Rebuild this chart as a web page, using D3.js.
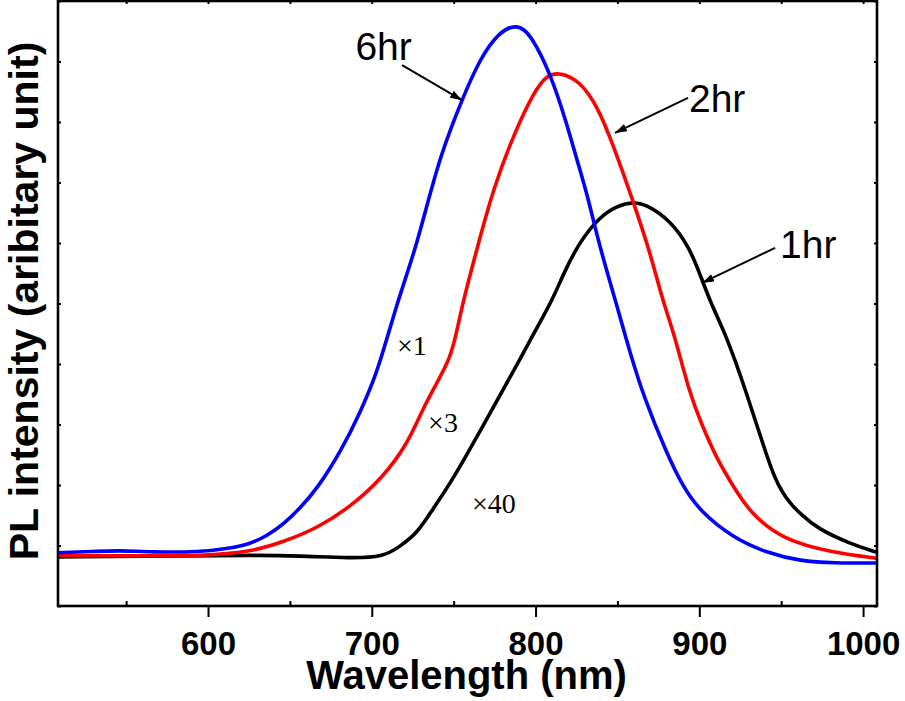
<!DOCTYPE html>
<html>
<head>
<meta charset="utf-8">
<script src="https://cdn.jsdelivr.net/npm/d3@7"></script>
<style>
  body { margin: 0; background: #fff; }
  svg { display: block; }
</style>
</head>
<body>
<div id="graphe"></div>
<script>
//----------------------------------------------------------------
// données (nm, intensité en unités arbitraires)
//----------------------------------------------------------------
var nm6hr = [508, 530, 546, 565, 595, 613, 626, 636, 646, 656, 667, 681, 693, 703, 709, 715, 721, 727, 733, 742, 754, 766, 778, 789, 797, 809, 819, 825, 832, 839, 850, 857, 866, 880, 890, 901, 921, 941, 962, 982, 1008];
var pl6hr = [0.88, 0.90, 0.92, 0.89, 0.89, 0.95, 1.03, 1.16, 1.35, 1.61, 1.95, 2.55, 3.20, 3.85, 4.40, 4.95, 5.45, 5.95, 6.55, 7.45, 8.30, 9.05, 9.50, 9.62, 9.45, 8.81, 7.98, 7.40, 6.76, 5.95, 4.94, 4.25, 3.46, 2.53, 1.97, 1.55, 1.12, 0.88, 0.74, 0.71, 0.71];

var nm2hr = [508, 565, 595, 626, 646, 667, 687, 707, 722, 731, 740, 748, 752, 756, 764, 774, 786, 799, 807, 815, 827, 838, 847, 860, 870, 878, 884, 894, 901, 911, 921, 931, 951, 982, 1008];
var pl2hr = [0.83, 0.83, 0.83, 0.89, 1.06, 1.29, 1.64, 2.13, 2.69, 3.25, 3.70, 4.10, 4.55, 5.06, 5.88, 6.88, 7.75, 8.50, 8.78, 8.82, 8.68, 8.25, 7.65, 6.66, 5.84, 5.01, 4.56, 3.52, 3.03, 2.41, 1.97, 1.54, 1.09, 0.88, 0.79];

var nm1hr = [508, 595, 626, 656, 687, 707, 717, 728, 737, 748, 758, 768, 778, 791, 800, 810, 818, 827, 839, 850, 860, 868, 882, 894, 901, 907, 915, 922, 929, 935, 941, 946, 951, 957, 962, 972, 992, 1008];
var pl1hr = [0.81, 0.83, 0.84, 0.83, 0.79, 0.81, 0.98, 1.21, 1.59, 2.03, 2.50, 2.98, 3.47, 4.10, 4.56, 5.04, 5.55, 6.02, 6.43, 6.62, 6.68, 6.63, 6.38, 5.93, 5.44, 5.01, 4.55, 4.05, 3.50, 3.00, 2.50, 2.12, 1.86, 1.65, 1.52, 1.28, 1.03, 0.89];

var series = ["1hr", "2hr", "6hr"];
var couleurs = ["#000000", "#ff0000", "#0000ff"];
var facteurs = ["\u00d740", "\u00d73", "\u00d71"];

var xTicks = [600, 700, 800, 900, 1000];
var xMinor = [550, 650, 750, 850, 950];
var yTicks = [0, 1, 2, 3, 4, 5, 6, 7, 8, 9, 10];

// repères des annotations (nm, intensité)
var fleches = [
  {txt: "1hr", pointe: [901.7, 5.34], queue: [946.3, 5.92], texte: [949.3, 5.75]},
  {txt: "2hr", pointe: [848.5, 7.82], queue: [893.1, 8.40], texte: [893.7, 8.17]},
  {txt: "6hr", pointe: [755.1, 8.36], queue: [718.5, 8.94], texte: [690.0, 9.03]}
];
var posFacteurs = [[761.2, 1.54], [734.4, 2.88], [715.4, 4.15]];

//----------------------------------------------------------------
// svg
//----------------------------------------------------------------
var largeurSvg = 905, hauteurSvg = 701;
var marges = {haut: 1, droite: 28, bas: 95, gauche: 58},
    largeur = largeurSvg - marges.gauche - marges.droite,
    hauteur = hauteurSvg - marges.haut - marges.bas;

var svg = d3.select("#graphe")
    .append("svg")
    .attr("width", largeurSvg)
    .attr("height", hauteurSvg);
var g = svg.append("g")
    .attr("transform", "translate(" + marges.gauche + "," + marges.haut + ")");

var x = d3.scaleLinear().domain([508.4, 1008.5]).range([0, largeur]);
var y = d3.scaleLinear().domain([0, 10]).range([hauteur, 0]);

// flèches
svg.append("defs").append("marker")
    .attr("id", "pointe")
    .attr("viewBox", "0 0 12 8")
    .attr("refX", 12).attr("refY", 4)
    .attr("markerWidth", 12).attr("markerHeight", 8)
    .attr("markerUnits", "userSpaceOnUse")
    .attr("orient", "auto")
    .append("path")
    .attr("d", "M0,0 L12,4 L0,8 Z")
    .attr("fill", "#000");

// courbes
var ligne = d3.line()
    .x(function(d) { return x(d[0]); })
    .y(function(d) { return y(d[1]); })
    .curve(d3.curveBasis);

var donnees = [d3.zip(nm1hr, pl1hr), d3.zip(nm2hr, pl2hr), d3.zip(nm6hr, pl6hr)];
svg.append("clipPath").attr("id", "zone")
    .append("rect").attr("width", largeur).attr("height", hauteur);

g.append("g").attr("clip-path", "url(#zone)")
  .selectAll("path")
  .data(donnees)
  .enter().append("path")
    .attr("d", ligne)
    .attr("fill", "none")
    .attr("stroke", function(d, i) { return couleurs[i]; })
    .attr("stroke-width", 3.6)
    .attr("stroke-linejoin", "round");

// axes
var axeBas = g.append("g")
    .attr("transform", "translate(0," + hauteur + ")")
    .call(d3.axisBottom(x).tickValues(xTicks).tickFormat(d3.format("d"))
        .tickSize(11).tickPadding(15).tickSizeOuter(0));
g.append("g")
    .attr("transform", "translate(0," + hauteur + ")")
    .call(d3.axisBottom(x).tickValues(xMinor).tickSize(-5).tickFormat("").tickSizeOuter(0));
g.append("g")
    .call(d3.axisTop(x).tickValues(xTicks.concat(xMinor)).tickSize(-3).tickFormat("").tickSizeOuter(0));
g.append("g")
    .call(d3.axisLeft(y).tickValues(yTicks).tickSize(-3).tickFormat("").tickSizeOuter(0));
g.append("g")
    .attr("transform", "translate(" + largeur + ",0)")
    .call(d3.axisRight(y).tickValues(yTicks).tickSize(-3).tickFormat("").tickSizeOuter(0));

g.selectAll(".domain").remove();
g.selectAll(".tick line").attr("stroke", "#000").attr("stroke-width", 2);

axeBas.selectAll("text")
    .attr("font-family", "Liberation Sans, Arial, sans-serif")
    .attr("font-weight", "bold")
    .attr("font-size", 33)
    .attr("fill", "#000");

g.append("rect")
    .attr("width", largeur)
    .attr("height", hauteur)
    .attr("fill", "none")
    .attr("stroke", "#000")
    .attr("stroke-width", 2.6);

// titres des axes
svg.append("text")
    .attr("x", marges.gauche + largeur / 2 - 1)
    .attr("y", 689)
    .attr("text-anchor", "middle")
    .attr("font-family", "Liberation Sans, Arial, sans-serif")
    .attr("font-weight", "bold")
    .attr("font-size", 40)
    .text("Wavelength (nm)");

svg.append("text")
    .attr("transform", "translate(38,301) rotate(-90)")
    .attr("text-anchor", "middle")
    .attr("font-family", "Liberation Sans, Arial, sans-serif")
    .attr("font-weight", "bold")
    .attr("font-size", 41)
    .text("PL intensity (aribitary unit)");

// annotations
fleches.forEach(function(f) {
    g.append("line")
        .attr("x1", x(f.queue[0])).attr("y1", y(f.queue[1]))
        .attr("x2", x(f.pointe[0])).attr("y2", y(f.pointe[1]))
        .attr("stroke", "#000")
        .attr("stroke-width", 2)
        .attr("marker-end", "url(#pointe)");
    g.append("text")
        .attr("x", x(f.texte[0])).attr("y", y(f.texte[1]))
        .attr("font-family", "Liberation Sans, Arial, sans-serif")
        .attr("font-size", 39)
        .text(f.txt);
});

posFacteurs.forEach(function(p, i) {
    g.append("text")
        .attr("x", x(p[0])).attr("y", y(p[1]))
        .attr("font-family", "Liberation Serif, Times New Roman, serif")
        .attr("font-size", 28)
        .text(facteurs[i]);
});
</script>
</body>
</html>
